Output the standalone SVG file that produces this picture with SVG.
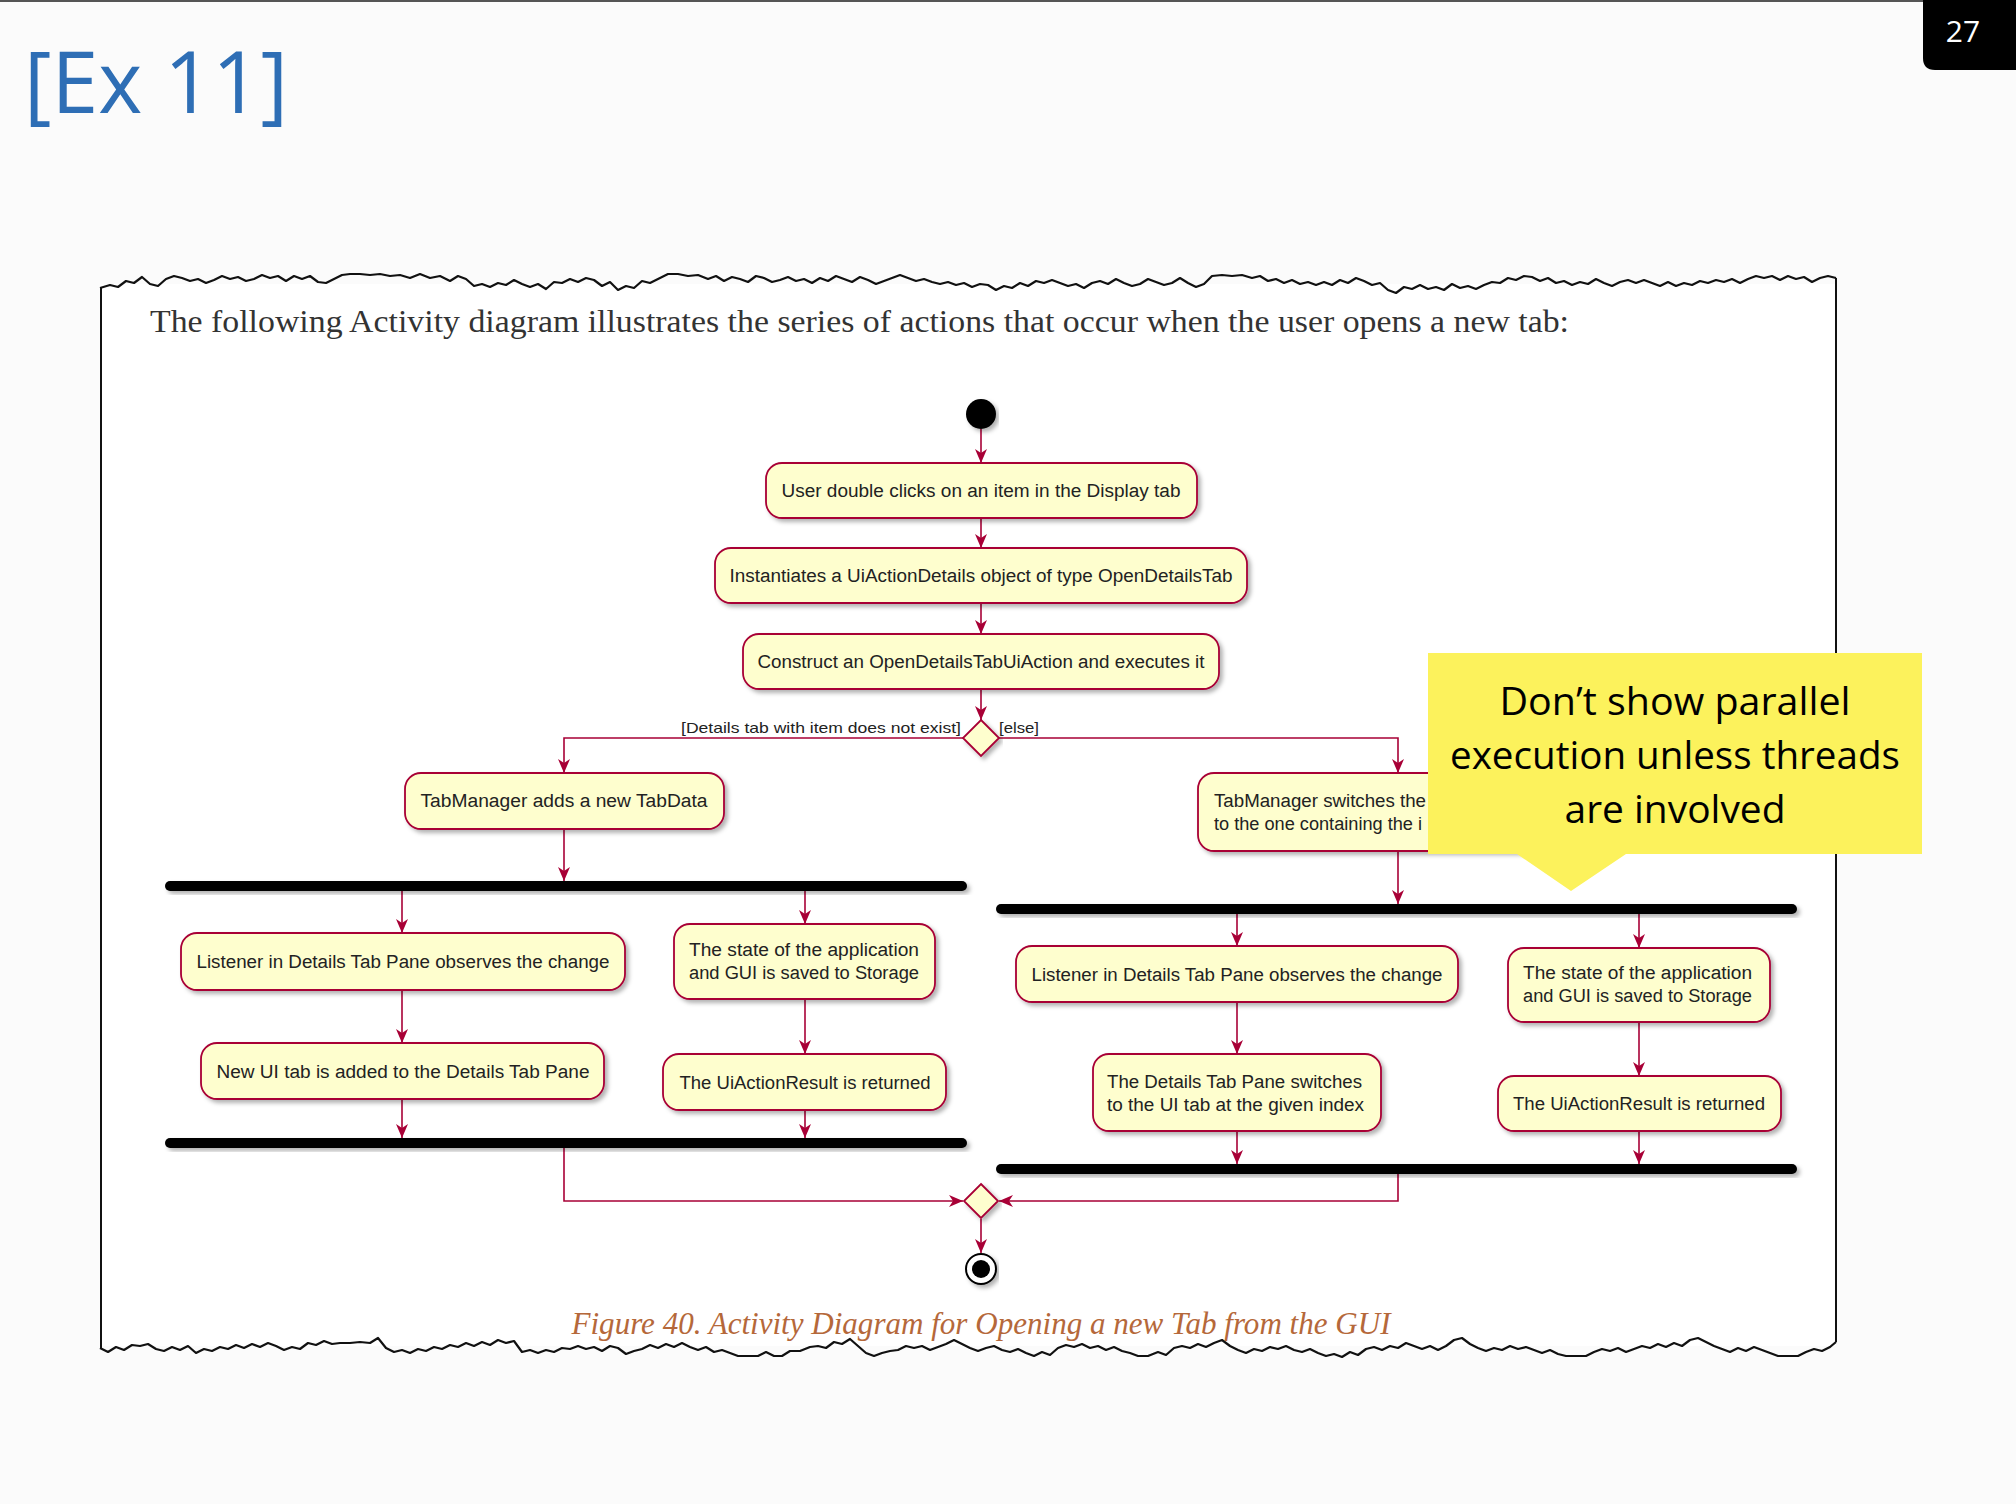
<svg xmlns="http://www.w3.org/2000/svg" width="2016" height="1504" viewBox="0 0 2016 1504">
<defs>
<style>
.act{fill:#FEFECE;stroke:#A80036;stroke-width:1.8;filter:url(#sh)}
.bar{fill:#000;filter:url(#sh)}
.t{font-family:"Liberation Sans",Arial,sans-serif;font-size:18px;fill:#222}
.c{text-anchor:middle}
.con{fill:none;stroke:#A80036;stroke-width:1.6;marker-end:url(#ah)}
.edge{fill:none;stroke:#111;stroke-width:2.2;stroke-linejoin:round}
.guard{font-family:"Liberation Sans",Arial,sans-serif;font-size:15px;fill:#222}
.call{font-family:"Open Sans","Noto Sans",sans-serif;font-size:39px;fill:#000;text-anchor:middle}
</style>
<filter id="sh" x="-10%" y="-30%" width="120%" height="170%">
<feDropShadow dx="3" dy="3" stdDeviation="2" flood-color="#000" flood-opacity="0.3"/>
</filter>
<marker id="ah" markerUnits="userSpaceOnUse" markerWidth="16" markerHeight="14" refX="14" refY="6" orient="auto">
<path d="M0,0 L14,6 L0,12 L4,6 Z" fill="#A80036"/>
</marker>
</defs>
<rect width="2016" height="1504" fill="#fbfbfb"/>
<rect x="0" y="0" width="2016" height="2" fill="#555"/>
<text x="24" y="113" font-family="Open Sans,Noto Sans,sans-serif" font-size="86" fill="#2E6EB5" textLength="264" lengthAdjust="spacingAndGlyphs">[Ex 11]</text>
<path d="M1923,0 H2016 V70 H1935 Q1923,70 1923,58 Z" fill="#000"/>
<text x="1963" y="42" font-family="Open Sans,Noto Sans,sans-serif" font-size="30" fill="#fff" text-anchor="middle">27</text>

<g id="paper">
<rect x="100" y="284" width="1736" height="1062" fill="#fff"/>
<polyline class="edge" points="100,288 110,285 118,287 126,281 134,283 142,277 150,284 158,286 166,279 174,276 182,278 190,281 198,279 206,283 214,280 222,276 230,279 238,277 246,281 254,279 262,275 270,278 278,276 286,281 294,276 302,279 310,276 318,282 326,283 334,279 342,275 350,274 360,274 370,275 380,274 390,276 400,275 410,278 420,274 430,278 440,276 450,281 458,276 466,279 474,286 482,284 490,287 498,283 506,285 514,280 522,284 530,287 538,284 546,289 554,282 562,283 570,279 578,282 586,278 594,280 602,286 610,282 618,290 626,286 634,288 642,281 650,283 658,279 668,274 678,274 688,276 698,275 708,279 716,276 724,281 732,277 740,279 748,282 756,276 764,278 772,282 780,280 788,277 796,281 804,279 812,283 820,278 828,281 836,276 844,279 852,282 860,277 868,280 876,284 884,281 892,278 900,275 908,278 916,281 924,279 932,282 940,284 948,282 956,285 964,283 972,287 980,284 988,285 996,290 1004,286 1012,288 1020,283 1028,286 1036,281 1044,283 1052,280 1060,283 1068,286 1076,284 1084,288 1092,283 1100,281 1108,284 1116,279 1124,283 1132,286 1140,284 1148,279 1156,282 1164,285 1172,283 1180,278 1188,283 1196,287 1204,284 1212,276 1222,275 1232,276 1242,275 1252,278 1260,276 1268,281 1276,279 1284,283 1292,280 1300,284 1308,282 1316,285 1324,282 1332,285 1340,280 1348,283 1356,278 1364,281 1372,285 1380,283 1388,290 1396,293 1404,287 1412,289 1420,285 1428,289 1436,287 1444,290 1452,284 1460,288 1468,286 1476,289 1484,285 1492,282 1500,283 1508,278 1516,280 1524,276 1532,277 1540,281 1548,278 1556,283 1564,281 1572,285 1580,282 1588,284 1596,279 1604,283 1612,286 1620,282 1628,280 1636,283 1644,280 1652,283 1660,286 1668,282 1676,286 1684,283 1692,285 1700,281 1708,283 1716,280 1724,282 1732,279 1740,283 1748,279 1756,276 1764,278 1772,276 1780,280 1788,276 1796,279 1804,277 1812,282 1820,278 1828,276 1836,278"/>
<polyline class="edge" points="100,1348 108,1352 116,1347 124,1350 132,1345 140,1346 148,1344 156,1349 164,1351 172,1347 180,1350 188,1346 196,1353 204,1349 212,1351 220,1347 228,1349 236,1345 244,1348 252,1344 260,1347 268,1343 276,1346 284,1350 292,1347 300,1349 308,1343 316,1345 324,1341 332,1344 340,1343 350,1343 360,1342 370,1343 378,1338 386,1348 394,1352 402,1350 410,1353 418,1349 426,1351 434,1347 442,1349 450,1345 458,1347 466,1343 474,1346 482,1342 490,1345 498,1340 506,1343 514,1341 522,1352 530,1350 538,1353 546,1350 554,1352 562,1348 570,1349 578,1346 586,1349 594,1347 602,1351 610,1346 618,1348 626,1354 634,1351 642,1349 650,1345 658,1348 666,1344 674,1347 682,1343 690,1347 698,1350 706,1347 714,1352 722,1350 730,1353 738,1356 748,1356 758,1356 766,1352 774,1356 782,1356 790,1351 800,1351 810,1347 818,1346 826,1348 834,1342 842,1344 850,1339 858,1346 866,1353 874,1356 882,1353 890,1351 898,1350 906,1346 914,1348 922,1346 930,1350 938,1347 946,1344 954,1340 962,1344 970,1348 978,1351 986,1348 994,1346 1002,1350 1010,1352 1018,1349 1026,1353 1034,1356 1042,1352 1050,1355 1058,1348 1066,1345 1074,1347 1082,1344 1090,1348 1098,1346 1106,1350 1114,1347 1122,1351 1130,1353 1138,1356 1148,1356 1158,1352 1166,1355 1174,1348 1182,1346 1190,1348 1198,1344 1206,1347 1214,1343 1222,1340 1230,1346 1238,1350 1246,1353 1254,1349 1262,1351 1270,1347 1278,1349 1286,1346 1294,1350 1302,1352 1310,1349 1318,1353 1326,1356 1334,1354 1342,1357 1350,1352 1358,1355 1366,1349 1374,1347 1382,1350 1390,1346 1398,1348 1406,1343 1414,1346 1422,1349 1430,1346 1438,1350 1446,1346 1454,1340 1462,1338 1470,1344 1478,1348 1486,1351 1494,1348 1502,1350 1510,1346 1518,1349 1526,1347 1534,1350 1542,1353 1550,1350 1558,1354 1566,1356 1576,1356 1586,1356 1594,1352 1602,1349 1610,1351 1618,1348 1626,1352 1634,1349 1642,1346 1650,1348 1658,1344 1666,1347 1674,1343 1682,1346 1690,1340 1698,1338 1706,1342 1714,1346 1722,1349 1730,1352 1738,1348 1746,1351 1754,1347 1762,1350 1770,1353 1778,1356 1788,1356 1798,1356 1806,1352 1814,1349 1822,1351 1830,1347 1836,1342"/>
<line x1="101" y1="288" x2="101" y2="1348" stroke="#111" stroke-width="2"/>
<line x1="1836" y1="278" x2="1836" y2="1342" stroke="#111" stroke-width="2"/>
<text x="150" y="332" font-family="Liberation Serif,serif" font-size="32" fill="#333" textLength="1419" lengthAdjust="spacingAndGlyphs">The following Activity diagram illustrates the series of actions that occur when the user opens a new tab:</text>
<text x="981" y="1334" font-family="Liberation Serif,serif" font-style="italic" font-size="31" fill="#B5683A" text-anchor="middle" textLength="819" lengthAdjust="spacingAndGlyphs">Figure 40. Activity Diagram for Opening a new Tab from the GUI</text>
</g>

<g id="connectors">
<line class="con" x1="981" y1="429" x2="981" y2="463"/>
<line class="con" x1="981" y1="518" x2="981" y2="548"/>
<line class="con" x1="981" y1="603" x2="981" y2="634"/>
<line class="con" x1="981" y1="689" x2="981" y2="720"/>
<polyline class="con" points="963,738 564,738 564,773"/>
<polyline class="con" points="999,738 1398,738 1398,773"/>
<line class="con" x1="564" y1="829" x2="564" y2="881"/>
<line class="con" x1="1398" y1="851" x2="1398" y2="904"/>
<line class="con" x1="402" y1="891" x2="402" y2="933"/>
<line class="con" x1="805" y1="891" x2="805" y2="924"/>
<line class="con" x1="402" y1="990" x2="402" y2="1043"/>
<line class="con" x1="805" y1="999" x2="805" y2="1054"/>
<line class="con" x1="402" y1="1099" x2="402" y2="1138"/>
<line class="con" x1="805" y1="1110" x2="805" y2="1138"/>
<line class="con" x1="1237" y1="914" x2="1237" y2="946"/>
<line class="con" x1="1639" y1="914" x2="1639" y2="948"/>
<line class="con" x1="1237" y1="1002" x2="1237" y2="1054"/>
<line class="con" x1="1639" y1="1022" x2="1639" y2="1076"/>
<line class="con" x1="1237" y1="1131" x2="1237" y2="1164"/>
<line class="con" x1="1639" y1="1131" x2="1639" y2="1164"/>
<polyline class="con" points="564,1148 564,1201 963,1201"/>
<polyline class="con" points="1398,1174 1398,1201 999,1201"/>
<line class="con" x1="981" y1="1219" x2="981" y2="1253"/>
<text class="guard" x="961" y="733" text-anchor="end" textLength="280" lengthAdjust="spacingAndGlyphs">[Details tab with item does not exist]</text>
<text class="guard" x="999" y="733" textLength="40" lengthAdjust="spacingAndGlyphs">[else]</text>
</g>

<g id="start"><circle cx="981" cy="414" r="15" fill="#000" filter="url(#sh)"/></g>
<g id="n1"><rect class="act" x="766" y="463" width="431" height="55" rx="16"/><text class="t c" x="981" y="497" textLength="399" lengthAdjust="spacingAndGlyphs">User double clicks on an item in the Display tab</text></g>
<g id="n2"><rect class="act" x="715" y="548" width="532" height="55" rx="16"/><text class="t c" x="981" y="582" textLength="503" lengthAdjust="spacingAndGlyphs">Instantiates a UiActionDetails object of type OpenDetailsTab</text></g>
<g id="n3"><rect class="act" x="743" y="634" width="476" height="55" rx="16"/><text class="t c" x="981" y="668" textLength="447" lengthAdjust="spacingAndGlyphs">Construct an OpenDetailsTabUiAction and executes it</text></g>
<g id="decision"><polygon class="act" points="981,720 999,738 981,756 963,738"/></g>
<g id="l1"><rect class="act" x="405" y="773" width="319" height="56" rx="16"/><text class="t c" x="564" y="807" textLength="287" lengthAdjust="spacingAndGlyphs">TabManager adds a new TabData</text></g>
<g id="r1"><rect class="act" x="1198" y="773" width="400" height="78" rx="16"/><text class="t" x="1214" y="807" textLength="212" lengthAdjust="spacingAndGlyphs">TabManager switches the</text><text class="t" x="1214" y="830" textLength="208" lengthAdjust="spacingAndGlyphs">to the one containing the i</text></g>
<g id="forkL"><rect class="bar" x="165" y="881" width="802" height="10" rx="5"/></g>
<g id="forkR"><rect class="bar" x="996" y="904" width="801" height="10" rx="5"/></g>
<g id="ll1"><rect class="act" x="181" y="933" width="444" height="57" rx="16"/><text class="t c" x="403" y="968" textLength="413" lengthAdjust="spacingAndGlyphs">Listener in Details Tab Pane observes the change</text></g>
<g id="lr1"><rect class="act" x="674" y="924" width="261" height="75" rx="16"/><text class="t" x="689" y="956" textLength="230" lengthAdjust="spacingAndGlyphs">The state of the application</text><text class="t" x="689" y="979" textLength="230" lengthAdjust="spacingAndGlyphs">and GUI is saved to Storage</text></g>
<g id="ll2"><rect class="act" x="201" y="1043" width="403" height="56" rx="16"/><text class="t c" x="403" y="1078" textLength="373" lengthAdjust="spacingAndGlyphs">New UI tab is added to the Details Tab Pane</text></g>
<g id="lr2"><rect class="act" x="663" y="1054" width="283" height="56" rx="16"/><text class="t c" x="805" y="1089" textLength="251" lengthAdjust="spacingAndGlyphs">The UiActionResult is returned</text></g>
<g id="joinL"><rect class="bar" x="165" y="1138" width="802" height="10" rx="5"/></g>
<g id="rl1"><rect class="act" x="1016" y="946" width="442" height="56" rx="16"/><text class="t c" x="1237" y="981" textLength="411" lengthAdjust="spacingAndGlyphs">Listener in Details Tab Pane observes the change</text></g>
<g id="rr1"><rect class="act" x="1508" y="948" width="262" height="74" rx="16"/><text class="t" x="1523" y="979" textLength="229" lengthAdjust="spacingAndGlyphs">The state of the application</text><text class="t" x="1523" y="1002" textLength="229" lengthAdjust="spacingAndGlyphs">and GUI is saved to Storage</text></g>
<g id="rl2"><rect class="act" x="1093" y="1054" width="288" height="77" rx="16"/><text class="t" x="1107" y="1088" textLength="255" lengthAdjust="spacingAndGlyphs">The Details Tab Pane switches</text><text class="t" x="1107" y="1111" textLength="257" lengthAdjust="spacingAndGlyphs">to the UI tab at the given index</text></g>
<g id="rr2"><rect class="act" x="1498" y="1076" width="283" height="55" rx="16"/><text class="t c" x="1639" y="1110" textLength="252" lengthAdjust="spacingAndGlyphs">The UiActionResult is returned</text></g>
<g id="joinR"><rect class="bar" x="996" y="1164" width="801" height="10" rx="5"/></g>
<g id="merge"><polygon class="act" points="981,1184 998,1201 981,1218 964,1201"/></g>
<g id="end"><circle cx="981" cy="1269" r="15" fill="#fff" stroke="#000" stroke-width="2" filter="url(#sh)"/><circle cx="981" cy="1269" r="9" fill="#000"/></g>

<g id="callout">
<path d="M1428,653 H1922 V854 H1626 L1571,891 L1517,854 H1428 Z" fill="#FCF25C"/>
<text class="call" x="1675" y="715" textLength="351" lengthAdjust="spacingAndGlyphs">Don’t show parallel</text>
<text class="call" x="1675" y="769" textLength="450" lengthAdjust="spacingAndGlyphs">execution unless threads</text>
<text class="call" x="1675" y="823" textLength="221" lengthAdjust="spacingAndGlyphs">are involved</text>
</g>
</svg>
